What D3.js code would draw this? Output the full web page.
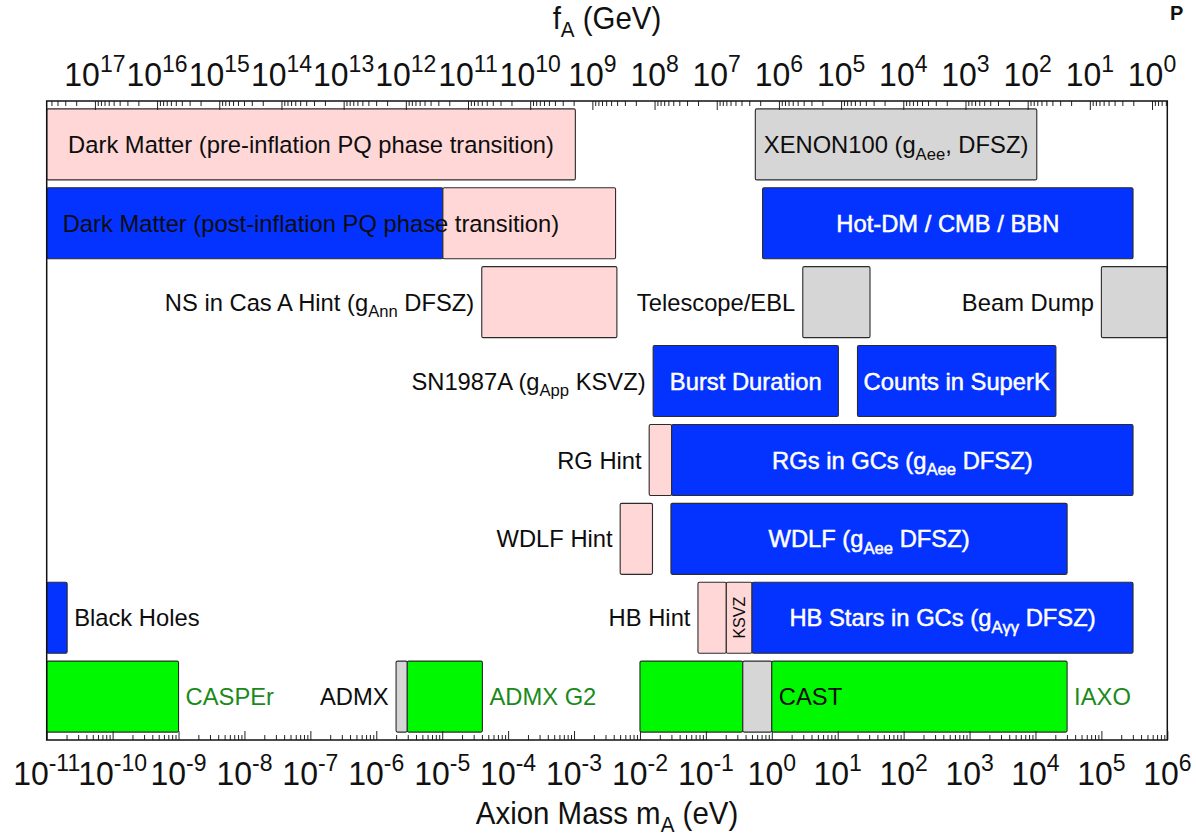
<!DOCTYPE html>
<html>
<head>
<meta charset="utf-8">
<script src="https://cdn.jsdelivr.net/npm/d3@7"></script>
<style>
  html, body { margin: 0; padding: 0; background: #fff; }
  svg { display: block; font-family: "Liberation Sans", Arial, Helvetica, sans-serif; }
</style>
</head>
<body>
<svg id="chart" width="1196" height="835"></svg>
<script>
// ---- axes -------------------------------------------------------------
// axion mass range of the frame (eV) and the labelled decades
const massDomain = [1e-11, 1e6];
const massDecades = [-11, -10, -9, -8, -7, -6, -5, -4, -3, -2, -1, 0, 1, 2, 3, 4, 5, 6];
// decay constant f_A (GeV) at the left and right edges of the frame, and its labelled decades
const faDomain = [5.96e17, 0.568];
const faDecades = [17, 16, 15, 14, 13, 12, 11, 10, 9, 8, 7, 6, 5, 4, 3, 2, 1, 0];

// ---- constraint boxes -------------------------------------------------
// one entry per box: row (top to bottom), log10 of lower / upper mass in eV, kind
const rows = [0, 1, 2, 3, 4, 5, 6, 7];
const segRow  = [0, 0,   1, 1, 1,   2, 2, 2,   3, 3,   4, 4,   5, 5,   6, 6, 6, 6,   7, 7, 7, 7, 7, 7];
const segLow  = [-11, -0.25,   -11, -4.99, -0.14,   -4.40, 0.47, 5.00,   -1.80, 1.30,   -1.86, -1.52,
                 -2.30, -1.53,   -11, -1.12, -0.69, -0.30,   -11, -5.70, -5.53, -2.00, -0.44, 0.00];
const segHigh = [-2.98, 4.02,   -4.99, -2.37, 5.48,   -2.35, 1.49, 6.00,   1.01, 4.31,   -1.52, 5.48,
                 -1.81, 4.48,   -10.69, -0.69, -0.30, 5.48,   -9.00, -5.53, -4.39, -0.44, 0.00, 4.48];
const segKind = ["hint", "exp",   "bound", "hint", "bound",   "hint", "exp", "exp",   "bound", "bound",
                 "hint", "bound",   "hint", "bound",   "bound", "hint", "hint", "bound",
                 "search", "exp", "search", "search", "exp", "search"];

// labels: text (with _{..} for subscripts) and the box each one belongs to
const labelText = [
  "Dark Matter (pre-inflation PQ phase transition)",
  "XENON100 (g_{Aee}, DFSZ)",
  "Dark Matter (post-inflation PQ phase transition)",
  "Hot-DM / CMB / BBN",
  "NS in Cas A Hint (g_{Ann} DFSZ)",
  "Telescope/EBL",
  "Beam Dump",
  "SN1987A (g_{App} KSVZ)",
  "Burst Duration",
  "Counts in SuperK",
  "RG Hint",
  "RGs in GCs (g_{Aee} DFSZ)",
  "WDLF Hint",
  "WDLF (g_{Aee} DFSZ)",
  "Black Holes",
  "HB Hint",
  "KSVZ",
  "HB Stars in GCs (g_{Aγγ} DFSZ)",
  "CASPEr",
  "ADMX",
  "ADMX G2",
  "CAST",
  "IAXO"
];
const labelSeg = [0, 1, 2, 4, 5, 6, 7, 8, 8, 9, 10, 11, 12, 13, 14, 15, 16, 17, 18, 19, 20, 22, 23];

// ---- layout -----------------------------------------------------------
const X0 = 46.7, X1 = 1167.3, Y0 = 101, Y1 = 740;
const fill = { hint: "#ffd7d7", bound: "#0433ff", exp: "#d6d6d6", search: "#00f900" };
// where each label sits relative to its box
const labelPlace = ["center", "center", "inset", "center", "before", "before", "before", "before",
  "center", "center", "before", "center", "before", "center", "after", "before", "vertical", "center",
  "after", "before", "after", "after", "after"];
const darkGreen = "#1b8a1b";
const labelColor = (i) => {
  const t = labelText[i];
  if (t === "CASPEr" || t === "ADMX G2" || t === "IAXO") return darkGreen;
  const k = segKind[labelSeg[i]];
  if (labelPlace[i] === "center" && k === "bound") return "#fff";
  return "#0d0d0d";
};

const svg = d3.select("#chart");
const x = d3.scaleLog().domain(massDomain).range([X0, X1]);
const xTop = d3.scaleLog().domain(faDomain).range([X0, X1]);
const y = d3.scaleBand().domain(rows).range([Y0, Y1]).paddingInner(0.1).paddingOuter(0.1);

// text with optional subscripts / superscripts, squeezed slightly horizontally
function richText(parent, px, py, parts, size, anchor, color, sx, supScale) {
  const g = parent.append("g").attr("transform", `translate(${px},${py}) scale(${sx},1)`);
  const t = g.append("text").attr("text-anchor", anchor).attr("fill", color).attr("font-size", size);
  let shift = 0;
  parts.forEach(p => {
    const target = p.sub ? 0.27 * size : p.sup ? -0.42 * size : 0;
    const ts = t.append("tspan").text(p.t).attr("dy", target - shift);
    if (p.sub || p.sup) ts.attr("font-size", size * (supScale || 0.7));
    shift = target;
  });
  return t;
}
function parseLabel(s) {
  const out = [];
  const re = /_\{([^}]*)\}/g;
  let last = 0, m;
  while ((m = re.exec(s))) {
    if (m.index > last) out.push({ t: s.slice(last, m.index) });
    out.push({ t: m[1], sub: true });
    last = re.lastIndex;
  }
  if (last < s.length) out.push({ t: s.slice(last) });
  return out;
}

// ---- boxes ------------------------------------------------------------
const segs = segRow.map((r, i) => ({ r, lo: segLow[i], hi: segHigh[i], kind: segKind[i] }));
svg.append("g").selectAll("rect").data(segs).join("rect")
  .attr("x", d => x(10 ** d.lo))
  .attr("y", d => y(d.r))
  .attr("width", d => x(10 ** d.hi) - x(10 ** d.lo))
  .attr("height", y.bandwidth())
  .attr("rx", 1.5)
  .attr("fill", d => fill[d.kind])
  .attr("stroke", "#2b2b2b")
  .attr("stroke-width", 1.1);

// ---- box labels -------------------------------------------------------
const LBL = 24.5, LSX = 0.97;
const gl = svg.append("g");
labelText.forEach((txt, i) => {
  const s = segs[labelSeg[i]];
  const xa = x(10 ** s.lo), xb = x(10 ** s.hi);
  const cy = y(s.r) + y.bandwidth() / 2;
  const place = labelPlace[i];
  const col = labelColor(i);
  if (place === "vertical") {
    const g = gl.append("g").attr("transform", `translate(${(xa + xb) / 2},${cy}) rotate(-90)`);
    g.append("text").attr("text-anchor", "middle").attr("dy", "0.35em")
      .attr("font-size", 16).attr("fill", col).text(txt);
    return;
  }
  const base = cy + 0.35 * LBL;
  let px = (xa + xb) / 2, anchor = "middle";
  if (place === "before") { px = xa - 7.5; anchor = "end"; }
  if (place === "after") { px = xb + 7; anchor = "start"; }
  if (place === "inset") { px = xa + 16; anchor = "start"; }
  const t = richText(gl, px, base, parseLabel(txt), LBL, anchor, col, LSX);
  if (col === "#fff") t.attr("stroke", "#fff").attr("stroke-width", 0.5);
});

// ---- frame and ticks --------------------------------------------------
const minorMass = [];
for (let e = -11; e < 6; e++) for (let k = 2; k <= 9; k++) minorMass.push(k * 10 ** e);
const minorFa = [];
for (let e = -1; e <= 17; e++) for (let k = 2; k <= 9; k++) {
  const v = k * 10 ** e;
  if (v <= faDomain[0] && v >= faDomain[1]) minorFa.push(v);
}

function tickGroup(axis, ty) {
  const g = svg.append("g").attr("transform", `translate(0,${ty})`).call(axis);
  g.select(".domain").remove();
  g.selectAll("line").attr("stroke", "#222").attr("stroke-width", 1);
  g.selectAll("text").remove();
  return g;
}
tickGroup(d3.axisBottom(x).tickValues(massDecades.map(e => 10 ** e)).tickSize(-9).tickFormat(""), Y1);
tickGroup(d3.axisBottom(x).tickValues(minorMass).tickSize(-5).tickFormat(""), Y1);
tickGroup(d3.axisTop(xTop).tickValues(faDecades.map(e => 10 ** e)).tickSize(-9).tickFormat(""), Y0);
tickGroup(d3.axisTop(xTop).tickValues(minorFa).tickSize(-5).tickFormat(""), Y0);

svg.append("rect").attr("x", X0).attr("y", Y0).attr("width", X1 - X0).attr("height", Y1 - Y0)
  .attr("fill", "none").attr("stroke", "#111").attr("stroke-width", 1.5);

// ---- tick labels ------------------------------------------------------
const TK = 34, TSX = 0.94;
massDecades.forEach(e => {
  richText(svg, x(10 ** e), 785, [{ t: "10" }, { t: String(e), sup: true }], TK, "middle", "#111", TSX, 0.72);
});
faDecades.forEach(e => {
  richText(svg, xTop(10 ** e), 86, [{ t: "10" }, { t: String(e), sup: true }], TK, "middle", "#111", TSX, 0.72);
});

// ---- axis titles ------------------------------------------------------
const midX = (X0 + X1) / 2;
richText(svg, midX, 29, [{ t: "f" }, { t: "A", sub: true }, { t: " (GeV)" }], 31, "middle", "#111", 0.95);
richText(svg, midX, 824, [{ t: "Axion Mass m" }, { t: "A", sub: true }, { t: " (eV)" }], 31, "middle", "#111", 0.95);

// corner mark at the top right
svg.append("text").attr("x", 1170).attr("y", 20).attr("font-size", 20)
  .attr("font-weight", "bold").attr("fill", "#111").text("P");
</script>
</body>
</html>
